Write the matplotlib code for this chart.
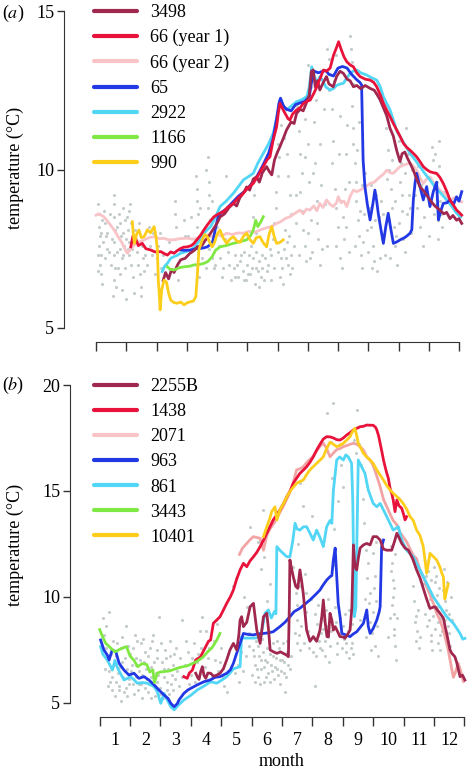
import numpy as np
import matplotlib
matplotlib.use('Agg')
import matplotlib.pyplot as plt
from matplotlib.lines import Line2D

plt.rcParams['font.family'] = ['Liberation Serif', 'DejaVu Serif']
plt.rcParams['mathtext.fontset'] = 'stix'
plt.rcParams['font.size'] = 13

# ---------------- panel (a) ----------------
a_3498_m = [2.22, 2.3, 2.4, 2.5, 2.58, 2.7, 2.8, 2.95, 3.1, 3.25, 3.35, 3.5, 3.6, 3.68, 3.83, 4.0, 4.1, 4.25, 4.4, 4.54,
            4.65, 4.75, 4.9, 4.98, 5.08, 5.2, 5.31, 5.4, 5.5, 5.64, 5.72, 5.81, 5.9, 6.0, 6.08, 6.2, 6.3, 6.45, 6.55, 6.63,
            6.75, 6.85, 6.97, 7.05, 7.12, 7.18, 7.25, 7.32, 7.4, 7.5, 7.62, 7.7, 7.84, 7.96, 8.07, 8.18, 8.3, 8.4, 8.51, 8.62,
            8.75, 8.9, 9.06, 9.2, 9.3, 9.39, 9.5, 9.61, 9.72, 9.83, 9.94, 10.05, 10.12, 10.21, 10.3, 10.38, 10.49, 10.6, 10.71, 10.85,
            11.04, 11.2, 11.37, 11.5, 11.59, 11.7, 11.8, 11.92, 12.0, 12.09]
a_3498_t = [6.5, 6.75, 6.55, 6.85, 6.75, 7.0, 7.15, 7.2, 7.35, 7.45, 7.56, 7.6, 7.75, 7.84, 8.05, 8.3, 8.5, 8.6, 8.8, 8.93,
            8.85, 9.1, 9.3, 9.45, 9.35, 9.7, 9.77, 9.6, 9.9, 10.09, 9.95, 9.83, 10.3, 10.55, 10.72, 11.0, 11.25, 11.5, 11.45, 11.77,
            11.9, 11.85, 12.14, 12.35, 13.1, 13.14, 12.6, 12.8, 12.51, 12.72, 12.93, 12.7, 12.61, 12.95, 13.1, 13.03, 12.85, 12.8, 12.61, 12.65,
            12.55, 12.65, 12.56, 12.5, 12.35, 12.2, 11.95, 11.7, 11.3, 11.05, 10.6, 10.25, 10.5, 10.55, 10.35, 10.2, 9.98, 9.7, 9.46, 9.3,
            9.04, 8.85, 8.72, 8.6, 8.65, 8.45, 8.55, 8.4, 8.45, 8.3]

a_66y1_m = [1.15, 1.22, 1.31, 1.4, 1.53, 1.65, 1.81, 1.95, 2.14, 2.25, 2.36, 2.47, 2.58, 2.7, 2.8, 2.9, 3.02, 3.15, 3.24, 3.35,
            3.46, 3.57, 3.68, 3.8, 3.9, 4.05, 4.21, 4.35, 4.54, 4.7, 4.87, 5.0, 5.2, 5.35, 5.53, 5.65, 5.75, 5.85, 5.97, 6.03,
            6.08, 6.15, 6.25, 6.35, 6.41, 6.5, 6.63, 6.75, 6.86, 6.97, 7.08, 7.2, 7.3, 7.42, 7.52, 7.62, 7.74, 7.85, 7.96, 8.02,
            8.1, 8.2, 8.29, 8.4, 8.51, 8.62, 8.73, 8.9, 9.06, 9.18, 9.28, 9.4, 9.5, 9.62, 9.72, 9.83, 9.94, 10.05, 10.16, 10.27,
            10.38, 10.5, 10.6, 10.71, 10.82, 10.93, 11.04, 11.15, 11.26, 11.37, 11.48, 11.6, 11.7, 11.8, 11.92, 12.0, 12.09]
a_66y1_t = [7.56, 7.9, 7.83, 7.6, 7.67, 7.5, 7.46, 7.4, 7.41, 7.35, 7.3, 7.4, 7.36, 7.45, 7.51, 7.55, 7.56, 7.6, 7.67, 7.8,
            7.93, 8.1, 8.25, 8.4, 8.51, 8.6, 8.67, 8.8, 8.93, 9.1, 9.25, 9.4, 9.56, 9.8, 10.09, 10.3, 10.4, 10.9, 11.35, 11.8,
            12.09, 11.95, 11.77, 11.6, 11.56, 11.75, 11.88, 11.95, 12.09, 12.15, 12.19, 12.4, 12.61, 12.9, 13.14, 13.1, 13.2, 13.6, 13.87, 14.03,
            13.8, 13.55, 13.4, 13.3, 13.24, 13.05, 12.93, 12.85, 12.82, 12.75, 12.61, 12.35, 12.09, 11.85, 11.67, 11.45, 11.25, 11.05, 10.83, 10.7,
            10.61, 10.5, 10.4, 10.25, 10.09, 10.0, 9.93, 9.9, 9.88, 9.75, 9.56, 9.3, 9.04, 8.9, 8.72, 8.65, 8.56]

a_66y2_m = [0.0, 0.1, 0.26, 0.4, 0.6, 0.75, 0.87, 0.95, 1.03, 1.12, 1.26, 1.4, 1.59, 1.75, 1.92, 2.1, 2.25, 2.4, 2.58, 2.75,
            3.02, 3.2, 3.35, 3.5, 3.68, 3.85, 4.0, 4.15, 4.32, 4.5, 4.7, 4.87, 5.05, 5.25, 5.42, 5.6, 5.8, 5.97, 6.1, 6.25,
            6.41, 6.55, 6.74, 6.85, 6.95, 7.07, 7.2, 7.3, 7.4, 7.5, 7.62, 7.74, 7.84, 7.95, 8.01, 8.1, 8.2, 8.29, 8.4, 8.51,
            8.62, 8.73, 8.9, 9.06, 9.2, 9.39, 9.5, 9.61, 9.72, 9.83, 9.95, 10.05, 10.2, 10.38, 10.5, 10.6, 10.71, 10.82, 10.93, 11.04,
            11.15, 11.26, 11.37, 11.48, 11.6, 11.7, 11.82, 11.92, 12.0, 12.09]
a_66y2_t = [8.56, 8.6, 8.51, 8.35, 8.09, 7.85, 7.67, 7.5, 7.36, 7.45, 7.62, 7.7, 7.78, 7.85, 7.88, 7.82, 7.83, 7.78, 7.78, 7.82,
            7.83, 7.8, 7.83, 7.9, 7.93, 7.9, 7.95, 7.9, 7.99, 7.95, 8.0, 7.99, 8.05, 8.02, 8.09, 8.15, 8.2, 8.3, 8.35, 8.45,
            8.51, 8.6, 8.72, 8.6, 8.75, 8.72, 8.85, 8.7, 8.93, 8.8, 9.04, 8.9, 8.83, 8.95, 9.14, 8.95, 9.0, 8.83, 9.15, 9.35,
            9.3, 9.35, 9.45, 9.56, 9.6, 9.77, 9.85, 9.98, 9.9, 9.88, 10.0, 10.09, 10.15, 10.2, 10.1, 9.98, 9.75, 9.56, 9.7, 9.77,
            9.6, 9.46, 9.35, 9.25, 9.1, 9.04, 9.1, 9.12, 9.0, 8.98]

a_65_m = [2.8, 2.95, 3.13, 3.3, 3.46, 3.57, 3.68, 3.76, 3.84, 3.9, 3.96, 4.04, 4.15, 4.3, 4.5, 4.7, 4.9, 5.1, 5.3, 5.5,
          5.7, 5.85, 5.97, 6.05, 6.1, 6.2, 6.3, 6.45, 6.6, 6.75, 6.9, 7.05, 7.15, 7.22, 7.35, 7.5, 7.6, 7.7, 7.85, 8.0,
          8.15, 8.3, 8.45, 8.6, 8.72, 8.78, 8.83, 8.89, 8.97, 9.06, 9.15, 9.22, 9.28, 9.33, 9.42, 9.5, 9.58, 9.66, 9.75, 9.83,
          9.95, 10.05, 10.2, 10.3, 10.38, 10.44, 10.49, 10.55, 10.6, 10.7, 10.82, 10.93, 11.04, 11.15, 11.26, 11.32, 11.4, 11.48, 11.6, 11.7,
          11.82, 11.92, 12.0, 12.09]
a_65_t = [7.46, 7.45, 7.46, 7.5, 7.51, 7.53, 7.56, 7.62, 7.67, 7.9, 8.2, 8.51, 8.65, 8.75, 8.95, 9.15, 9.3, 9.5, 9.75, 10.1,
          10.5, 10.95, 11.6, 12.1, 12.25, 12.0, 11.9, 11.85, 12.05, 12.1, 12.15, 12.3, 12.9, 13.1, 13.05, 13.1, 13.12, 13.0, 12.95, 13.2,
          13.25, 13.2, 13.0, 12.85, 12.75, 12.67, 10.3, 9.46, 8.9, 8.41, 8.9, 9.35, 9.0, 8.62, 8.1, 7.67, 8.2, 8.62, 8.1, 7.67,
          7.72, 7.78, 7.85, 7.92, 7.99, 8.1, 9.04, 9.6, 9.88, 9.5, 9.04, 9.46, 8.83, 9.3, 9.6, 8.41, 8.7, 8.93, 8.95, 9.04,
          8.9, 9.14, 9.0, 9.3]

a_2922_m = [2.19, 2.27, 2.36, 2.47, 2.58, 2.7, 2.8, 2.95, 3.13, 3.25, 3.35, 3.45, 3.57, 3.68, 3.79, 3.95, 4.1, 4.3, 4.54, 4.7,
            4.87, 5.0, 5.2, 5.35, 5.53, 5.7, 5.86, 5.97, 6.08, 6.2, 6.3, 6.45, 6.63, 6.8, 6.97, 7.05, 7.13, 7.2, 7.3, 7.4,
            7.5, 7.6, 7.74, 7.85, 7.95, 8.08, 8.18, 8.3, 8.4, 8.5, 8.62, 8.75, 8.95, 9.1, 9.28, 9.4, 9.5, 9.6, 9.72, 9.85,
            9.95, 10.05, 10.2, 10.38, 10.55, 10.71, 10.85, 11.04, 11.2, 11.4, 11.59, 11.75, 11.92, 12.05]
a_2922_t = [6.78, 6.95, 7.04, 7.2, 7.25, 7.3, 7.36, 7.4, 7.46, 7.55, 7.67, 7.8, 7.99, 8.1, 8.2, 8.5, 8.83, 9.0, 9.25, 9.45,
            9.67, 9.75, 9.88, 10.2, 10.51, 10.8, 11.14, 11.6, 12.19, 12.0, 11.88, 12.0, 12.14, 12.2, 12.3, 12.6, 13.24, 13.0, 12.72, 12.93,
            12.8, 12.6, 12.51, 12.55, 12.65, 12.7, 12.72, 12.9, 13.03, 13.1, 13.14, 13.05, 12.98, 12.9, 12.82, 12.6, 12.3, 12.1, 11.88, 11.5,
            11.2, 11.04, 10.8, 10.51, 10.3, 10.09, 9.9, 9.67, 9.45, 9.25, 9.04, 8.85, 8.62, 8.5]

a_1166_m = [2.36, 2.45, 2.58, 2.75, 2.91, 3.1, 3.24, 3.4, 3.57, 3.7, 3.84, 3.95, 4.1, 4.3, 4.54, 4.75, 4.98, 5.1, 5.2, 5.28,
            5.35, 5.45, 5.53]
a_1166_t = [6.93, 6.85, 6.83, 6.9, 6.93, 6.95, 6.99, 7.0, 7.04, 7.1, 7.25, 7.45, 7.56, 7.6, 7.67, 7.72, 7.78, 7.9, 8.09, 8.4,
            8.2, 8.35, 8.51]

a_990_m = [1.2, 1.24, 1.27, 1.34, 1.42, 1.5, 1.59, 1.7, 1.8, 1.92, 1.98, 2.03, 2.06, 2.09, 2.12, 2.17, 2.25, 2.33, 2.4, 2.47,
           2.58, 2.69, 2.8, 2.91, 3.02, 3.13, 3.22, 3.3, 3.36, 3.4, 3.51, 3.6, 3.68, 3.76, 3.84, 3.92, 4.0, 4.1, 4.2, 4.32,
           4.42, 4.54, 4.65, 4.76, 4.88, 4.98, 5.08, 5.2, 5.3, 5.42, 5.52, 5.64, 5.72, 5.81, 5.9, 5.97, 6.08, 6.19]
a_990_t = [8.35, 7.9, 7.67, 7.95, 8.09, 7.85, 7.88, 8.1, 8.0, 8.2, 7.9, 7.46, 6.5, 6.09, 5.57, 6.2, 6.51, 6.45, 6.1, 5.88,
           5.8, 5.78, 5.82, 5.73, 5.8, 5.83, 5.85, 5.99, 6.8, 7.46, 7.78, 7.95, 7.88, 7.7, 7.56, 7.7, 7.95, 8.09, 7.85, 7.67,
           7.8, 7.88, 7.75, 7.7, 7.9, 7.99, 7.8, 7.67, 7.85, 7.88, 7.7, 7.56, 7.95, 8.2, 7.85, 7.67, 7.7, 7.78]

# grey dots (panel a)
a_dot_m = [0.08, 0.1, 0.1, 0.12, 0.1, 0.15, 0.12, 0.18, 0.2, 0.22, 0.3, 0.32, 0.35, 0.3, 0.38,
           0.58, 0.6, 0.6, 0.62, 0.6, 0.58, 0.62, 0.6, 0.57, 0.65,
           0.75, 0.8, 0.82, 0.78, 0.85, 0.88, 0.9, 0.92, 0.95, 0.98, 0.8, 0.85,
           1.02, 1.05, 1.08, 1.1, 1.12, 1.15, 1.2, 1.22, 1.0, 1.25,
           1.35, 1.4, 1.45, 1.5, 1.55, 1.6, 1.48, 1.8, 1.85, 1.9, 2.0, 2.05, 2.15, 2.2,
           2.6, 2.6, 2.65, 2.6, 2.7, 2.9, 2.95,
           3.32, 3.35, 3.35, 3.38, 3.35, 3.4, 3.38, 3.35, 3.4, 3.45,
           3.65, 3.7, 3.72, 3.75, 3.7, 3.78, 3.8, 3.75, 3.85, 3.9, 4.0, 4.05, 4.1, 4.2, 4.3, 4.35, 4.15,
           4.55, 4.6, 4.7, 4.75, 4.85, 4.9, 4.95, 5.0, 5.05, 5.1, 5.15, 5.2, 5.25, 5.3, 5.35, 5.4, 5.45, 5.5, 5.22, 5.18, 5.3,
           5.6, 5.65, 5.75, 5.8, 5.85, 5.9, 5.95, 5.95, 6.0, 6.05, 6.0, 6.1, 6.15, 6.2, 6.25, 6.3, 6.35, 6.4, 6.45,
           6.1, 6.2, 6.3, 6.35, 6.4, 6.45,
           6.65, 6.7, 6.75, 6.8, 6.75, 6.8, 6.85, 6.9, 6.95, 7.0, 7.05, 7.1, 7.15, 7.2, 7.25, 7.3, 7.35, 7.4, 7.45, 7.0, 7.1,
           7.65, 7.7, 7.75, 7.7, 7.8, 7.85, 7.8, 7.9, 7.95, 8.0, 7.95, 8.05, 8.1, 8.15, 8.2, 8.25, 8.3,
           8.4, 8.42, 8.45, 8.45, 8.5, 8.5, 8.55, 8.6, 8.6, 8.65, 8.7, 8.75, 8.8, 8.85, 8.9,
           9.05, 9.1, 9.15, 9.2, 9.3, 9.35, 9.45,
           9.6, 9.65, 9.7, 9.75, 9.8, 9.85, 9.9, 9.95, 10.0, 10.05, 10.1, 10.15, 10.25, 10.3, 10.35, 10.4,
           10.6, 10.7, 10.8, 11.1, 11.15, 11.2, 11.2, 11.25, 11.3, 11.3, 11.35, 11.45,
           0.05, 0.07, 0.15, 0.2, 0.28, 0.42, 0.45, 0.5, 0.52, 0.68, 0.7, 0.72, 0.9, 0.95, 1.05, 1.1, 1.15, 1.18, 1.3, 1.32,
           1.42, 1.52, 1.62, 1.7, 1.75, 1.95, 2.1, 2.3, 2.4, 2.8, 3.05, 3.15, 3.5, 3.55, 3.62, 3.82, 3.95, 4.25, 4.4, 4.45,
           4.6, 4.65, 4.8, 4.88, 5.02, 5.12, 5.28, 5.38, 5.48, 5.55, 5.7, 5.78, 5.88, 6.02, 6.08, 6.18, 6.28, 6.38, 6.48, 6.55,
           6.6, 6.62, 6.72, 6.9, 6.92, 7.02, 7.08, 7.18, 7.28, 7.32, 7.42, 7.48, 7.55, 7.58, 7.62, 7.88, 7.92, 8.02, 8.08, 8.12,
           8.22, 8.28, 8.35, 8.38, 8.48, 8.55, 8.62, 8.68, 8.72, 8.78, 8.82, 8.95, 9.0, 9.08, 9.12, 9.22, 9.25, 9.38, 9.42, 9.5,
           9.55, 9.62, 9.68, 9.72, 9.78, 9.88, 9.92, 10.02, 10.08, 10.12, 10.2, 10.22, 10.28, 10.38, 10.45, 10.55, 10.65, 10.75, 10.85, 10.9,
           11.0, 11.08, 11.18, 11.22, 11.28, 11.33, 11.38, 11.42, 11.52]
a_dot_t = [8.9, 8.6, 8.2, 7.9, 7.6, 7.3, 7.0, 6.7, 8.4, 7.7, 8.3, 7.9, 7.5, 7.2, 8.0,
           9.2, 8.9, 8.5, 8.1, 7.7, 7.3, 6.9, 6.5, 6.0, 6.3,
           8.6, 8.3, 7.9, 7.5, 7.2, 8.8, 8.0, 7.6, 8.4, 7.8, 6.7, 6.2,
           8.5, 8.1, 7.7, 7.3, 8.9, 7.0, 7.5, 6.6, 5.9, 6.1,
           7.4, 7.0, 6.7, 6.3, 7.2, 6.8, 6.0, 7.6, 7.3, 8.0, 7.2, 7.6, 6.9, 7.3,
           9.0, 8.6, 8.2, 7.8, 6.5, 8.4, 7.9,
           9.8, 9.4, 9.0, 8.6, 8.2, 7.8, 7.4, 7.0, 6.6, 8.8,
           10.0, 10.4, 9.6, 9.2, 8.8, 8.4, 7.9, 7.5, 7.2, 6.9, 8.2, 7.6, 7.2, 6.9, 9.8, 7.4, 6.6,
           6.9, 7.3, 6.6, 7.1, 6.8, 7.4, 6.5, 7.0, 7.3, 6.7, 6.9, 7.2, 6.4, 7.4, 6.8, 7.1, 6.6, 6.9, 9.2, 8.5, 8.0,
           7.2, 6.8, 7.5, 6.5, 7.8, 8.3, 8.8, 9.3, 9.8, 10.4, 10.8, 7.2, 6.9, 7.5, 8.1, 7.7, 7.0, 6.7, 7.3,
           11.4, 11.0, 10.5, 9.8, 9.2, 8.6,
           12.0, 11.2, 10.5, 9.9, 9.3, 8.7, 8.1, 7.6, 7.1, 10.8, 9.6, 8.4, 7.4, 11.5, 10.2, 9.0, 7.8, 7.0, 9.5, 13.3, 12.6,
           13.8, 13.5, 13.0, 12.5, 11.9, 10.9, 10.2, 9.4, 8.8, 8.2, 7.6, 7.2, 9.0, 8.5, 7.8, 10.5, 11.4,
           14.2, 13.8, 13.4, 12.0, 11.3, 10.8, 10.2, 9.6, 9.0, 8.4, 7.9, 7.3, 6.9, 8.6, 9.9,
           8.8, 8.2, 7.6, 7.1, 6.8, 8.5, 7.8,
           11.3, 10.6, 10.0, 9.4, 8.8, 8.2, 7.6, 7.0, 10.9, 9.6, 8.7, 7.8, 11.3, 10.5, 9.2, 8.0,
           8.8, 8.2, 7.6, 10.7, 10.3, 9.9, 9.4, 8.9, 8.4, 7.8, 10.9, 8.2,
           7.3, 6.8, 8.0, 6.4, 8.7, 7.4, 8.6, 7.0, 7.8, 8.2, 7.4, 6.9, 7.3, 6.9, 7.5, 8.7, 8.3, 7.8, 8.1, 7.7,
           8.3, 7.6, 7.3, 7.0, 8.2, 6.7, 8.0, 7.0, 7.7, 7.5, 7.9, 8.5, 7.2, 8.0, 6.9, 9.0, 7.0, 7.8, 7.0, 6.5,
           6.6, 7.0, 7.3, 6.5, 6.7, 7.6, 6.9, 6.3, 7.3, 6.5, 7.0, 7.3, 6.9, 7.4, 6.6, 6.4, 7.2, 7.9, 6.9, 7.6,
           8.3, 9.2, 7.3, 10.4, 11.6, 8.0, 7.2, 9.9, 12.2, 8.3, 10.8, 7.5, 11.9, 8.9, 7.6, 12.8, 13.6, 10.5, 11.7, 6.9,
           9.4, 8.2, 7.4, 9.6, 12.7, 7.6, 10.6, 11.5, 8.7, 9.5, 7.7, 8.1, 7.4, 9.5, 6.9, 8.4, 9.2, 7.2, 9.0, 8.6,
           7.3, 9.7, 8.4, 7.2, 10.3, 9.0, 7.9, 8.3, 10.2, 9.2, 7.4, 9.9, 8.6, 8.8, 10.0, 9.2, 10.1, 9.5, 8.5, 9.3,
           7.9, 9.1, 8.6, 10.5, 9.6, 10.1, 9.0, 8.6, 9.3]

# ---------------- panel (b) ----------------
b_2255_m = [3.16, 3.22, 3.27, 3.33, 3.38, 3.43, 3.49, 3.56, 3.65, 3.75, 3.85, 3.96, 4.07, 4.18, 4.29, 4.4, 4.51, 4.58, 4.62, 4.67,
            4.73, 4.84, 4.95, 5.06, 5.12, 5.17, 5.28, 5.35, 5.39, 5.5, 5.56, 5.61, 5.72, 5.83, 5.95, 6.04, 6.15, 6.21, 6.24, 6.26,
            6.32, 6.37, 6.45, 6.52, 6.59, 6.65, 6.7, 6.78, 6.81, 6.92, 7.03, 7.14, 7.25, 7.31, 7.36, 7.42, 7.48, 7.53, 7.58, 7.64,
            7.69, 7.75, 7.85, 7.91, 8.02, 8.07, 8.15, 8.24, 8.3, 8.35, 8.4, 8.46, 8.51, 8.57, 8.68, 8.79, 8.9, 9.0, 9.12, 9.23,
            9.34, 9.45, 9.56, 9.61, 9.7, 9.78, 9.85, 9.94, 10.05, 10.16, 10.3, 10.43, 10.54, 10.65, 10.76, 10.87, 10.96, 11.04, 11.1, 11.2,
            11.31, 11.37, 11.42, 11.53, 11.59, 11.69, 11.75, 11.86, 11.94, 12.02]
b_2255_t = [6.39, 6.2, 6.1, 6.5, 6.7, 6.3, 6.15, 6.4, 6.39, 6.25, 6.3, 6.39, 6.6, 7.02, 7.5, 7.8, 7.49, 8.2, 8.9, 9.06,
            8.59, 8.8, 9.53, 9.69, 9.0, 8.43, 7.8, 8.6, 9.06, 9.22, 8.4, 7.49, 7.4, 7.33, 7.4, 7.33, 7.25, 7.17, 9.5, 11.74,
            11.3, 10.95, 10.5, 10.4, 11.27, 10.7, 10.16, 8.9, 8.43, 7.9, 8.12, 7.9, 8.43, 9.06, 9.85, 8.8, 8.12, 8.12, 9.22, 8.9,
            8.43, 8.59, 8.3, 8.12, 8.1, 8.04, 8.2, 8.43, 9.5, 12.45, 11.42, 11.27, 11.8, 12.3, 12.45, 12.52, 12.45, 12.84, 12.84, 12.68,
            12.25, 12.2, 12.2, 12.2, 12.6, 13.0, 12.8, 12.52, 12.3, 12.2, 11.8, 11.27, 10.9, 10.4, 9.9, 9.45, 9.5, 9.53, 9.4, 9.22,
            9.0, 8.59, 8.27, 7.49, 7.33, 7.17, 6.9, 6.23, 6.3, 6.07]

b_1438_m = [2.77, 2.88, 2.95, 3.05, 3.16, 3.25, 3.32, 3.4, 3.49, 3.58, 3.65, 3.74, 3.85, 3.96, 4.08, 4.18, 4.3, 4.4, 4.5, 4.62,
            4.73, 4.84, 4.95, 5.06, 5.17, 5.28, 5.4, 5.5, 5.6, 5.71, 5.82, 5.93, 6.05, 6.16, 6.27, 6.37, 6.48, 6.59, 6.7, 6.81,
            6.92, 7.03, 7.14, 7.25, 7.36, 7.47, 7.58, 7.69, 7.8, 7.91, 8.02, 8.13, 8.24, 8.35, 8.46, 8.57, 8.68, 8.79, 8.9, 9.0,
            9.08, 9.12, 9.18, 9.23, 9.28, 9.34, 9.4, 9.45, 9.5, 9.56, 9.61, 9.66, 9.72, 9.78, 9.85, 9.94, 10.0, 10.05, 10.1]
b_1438_t = [6.23, 6.15, 6.4, 6.54, 7.02, 7.1, 7.17, 7.4, 7.65, 7.9, 7.96, 8.75, 8.9, 9.06, 9.4, 9.69, 10.0, 10.32, 10.8, 11.27,
            11.58, 11.42, 11.7, 11.89, 12.1, 12.37, 12.7, 13.0, 13.3, 13.63, 13.85, 14.1, 14.4, 14.73, 15.0, 15.36, 15.6, 15.83, 15.98, 16.14,
            16.35, 16.61, 16.93, 17.2, 17.45, 17.56, 17.55, 17.5, 17.42, 17.4, 17.5, 17.64, 17.75, 17.88, 17.95, 18.03, 18.05, 18.11, 18.1, 18.1,
            18.0, 17.88, 17.6, 17.25, 16.9, 16.46, 16.1, 15.83, 15.6, 15.1, 14.89, 14.57, 14.02, 14.57, 14.3, 14.18, 13.9, 13.63, 13.78]

b_2071_m = [4.6, 4.7, 4.84, 4.95, 5.06, 5.17, 5.28, 5.39, 5.5, 5.6, 5.75, 5.9, 6.05, 6.2, 6.35, 6.48, 6.6, 6.7, 6.85, 7.0,
            7.15, 7.25, 7.36, 7.47, 7.58, 7.7, 7.8, 7.91, 8.02, 8.15, 8.24, 8.35, 8.46, 8.57, 8.68, 8.79, 8.9, 9.0, 9.12, 9.23,
            9.34, 9.45, 9.56, 9.66, 9.78, 9.88, 10.0, 10.1, 10.2, 10.32, 10.43, 10.54, 10.65, 10.76, 10.87, 10.98, 11.09, 11.2, 11.31, 11.42,
            11.47, 11.53, 11.64, 11.7, 11.8, 11.88, 11.97]
b_2071_t = [12.0, 12.3, 12.52, 12.7, 12.84, 12.8, 12.76, 12.2, 12.9, 13.2, 13.5, 13.9, 14.3, 14.75, 15.3, 15.99, 16.05, 16.14, 16.4, 16.6,
            16.9, 17.1, 17.25, 17.0, 16.61, 16.8, 16.95, 17.0, 17.09, 17.15, 17.2, 17.25, 17.2, 17.09, 16.93, 16.61, 16.45, 16.2, 15.7, 15.2,
            14.6, 14.25, 13.9, 13.6, 13.4, 13.05, 12.8, 12.6, 12.3, 11.95, 11.8, 11.27, 10.95, 10.48, 10.1, 9.69, 9.22, 8.9, 8.43, 7.8,
            7.49, 7.02, 6.2, 6.4, 6.86, 6.5, 6.0]

b_963_m = [0.03, 0.14, 0.25, 0.31, 0.41, 0.53, 0.64, 0.8, 0.96, 1.13, 1.29, 1.46, 1.62, 1.79, 1.95, 2.12, 2.25, 2.34, 2.45, 2.55,
           2.61, 2.77, 2.9, 3.0, 3.21, 3.43, 3.63, 3.8, 3.96, 4.18, 4.3, 4.4, 4.5, 4.62, 4.73, 4.9, 5.06, 5.2, 5.39, 5.55,
           5.71, 5.93, 6.1, 6.26, 6.4, 6.59, 6.75, 6.92, 7.1, 7.25, 7.35, 7.47, 7.58, 7.64, 7.69, 7.75, 7.8, 7.85, 7.91, 7.97,
           8.1, 8.24, 8.35, 8.46, 8.57, 8.68, 8.79, 8.84, 8.9, 9.0, 9.12, 9.2, 9.23, 9.28, 9.34]
b_963_t = [7.96, 7.49, 7.25, 7.02, 7.49, 7.41, 6.86, 6.54, 6.31, 6.39, 6.15, 6.23, 6.07, 5.84, 5.6, 5.36, 5.2, 4.97, 4.81, 4.95,
           5.13, 5.44, 5.6, 5.68, 5.84, 5.99, 6.07, 6.2, 6.23, 6.39, 6.55, 6.86, 7.3, 7.8, 8.27, 8.22, 8.2, 8.25, 8.27, 8.3,
           8.35, 8.59, 8.8, 9.06, 9.3, 9.46, 9.65, 9.85, 10.1, 10.32, 10.55, 10.79, 10.95, 11.0, 11.74, 12.3, 11.0, 9.69, 9.06, 8.27,
           8.2, 8.12, 8.25, 8.35, 8.55, 8.75, 9.38, 8.6, 8.27, 8.5, 8.9, 9.3, 9.53, 12.37, 12.68]

b_861_m = [0.03, 0.1, 0.25, 0.42, 0.5, 0.6, 0.8, 1.02, 1.24, 1.4, 1.57, 1.79, 1.9, 2.01, 2.12, 2.2, 2.34, 2.45, 2.6, 2.77,
           3.0, 3.21, 3.45, 3.65, 3.85, 4.0, 4.18, 4.29, 4.4, 4.62, 4.67, 4.73, 4.9, 5.1, 5.3, 5.44, 5.55, 5.65, 5.75, 5.8,
           5.83, 5.93, 6.04, 6.15, 6.26, 6.35, 6.43, 6.5, 6.59, 6.7, 6.81, 6.92, 7.03, 7.14, 7.25, 7.36, 7.47, 7.58, 7.64, 7.69,
           7.75, 7.8, 7.9, 8.02, 8.1, 8.18, 8.29, 8.33, 8.38, 8.43, 8.46, 8.51, 8.62, 8.73, 8.84, 9.0, 9.12, 9.23, 9.34, 9.5,
           9.66, 9.83, 9.94, 10.1, 10.32, 10.54, 10.76, 10.98, 11.2, 11.42, 11.64, 11.86, 11.95, 12.02]
b_861_t = [7.65, 7.3, 7.02, 6.54, 7.0, 6.6, 6.07, 6.23, 5.92, 5.95, 5.92, 5.76, 5.5, 4.97, 5.44, 5.2, 4.81, 4.66, 4.9, 5.13,
           5.35, 5.6, 5.8, 5.99, 5.92, 6.05, 6.23, 6.4, 6.6, 6.7, 8.1, 8.05, 8.05, 8.05, 8.1, 9.22, 9.38, 9.0, 9.3, 9.2,
           12.37, 12.2, 12.05, 11.9, 11.89, 12.6, 13.47, 13.2, 13.15, 13.3, 13.31, 13.0, 12.68, 13.15, 12.8, 12.37, 13.31, 13.6, 13.47, 15.0,
           15.8, 16.46, 16.6, 16.46, 16.7, 16.61, 16.3, 14.5, 9.06, 9.5, 12.2, 16.46, 16.14, 15.83, 15.04, 14.41, 14.25, 14.41, 14.1, 13.63,
           13.15, 13.31, 12.68, 12.2, 11.89, 11.27, 10.64, 10.0, 9.53, 9.06, 8.75, 8.27, 8.0, 8.04]

b_3443_m = [0.0, 0.1, 0.2, 0.35, 0.5, 0.7, 0.88, 1.0, 1.13, 1.25, 1.4, 1.55, 1.65, 1.75, 1.8, 1.9, 2.0, 2.3, 2.6, 2.9,
            3.2, 3.4, 3.55, 3.7, 3.85, 3.96]
b_3443_t = [8.45, 8.1, 7.8, 7.6, 7.4, 7.55, 7.65, 7.2, 7.0, 6.7, 6.85, 6.8, 6.45, 6.55, 5.95, 6.4, 6.45, 6.5, 6.65, 6.75,
            6.95, 7.15, 7.4, 7.6, 7.95, 8.27]

b_10401_m = [5.39, 5.5, 5.6, 5.66, 5.72, 5.77, 5.83, 5.93, 6.05, 6.16, 6.3, 6.48, 6.6, 6.7, 6.8, 6.92, 7.03, 7.14, 7.25, 7.36,
             7.47, 7.58, 7.69, 7.8, 7.91, 8.02, 8.13, 8.24, 8.32, 8.4, 8.46, 8.51, 8.6, 8.68, 8.79, 8.9, 9.0, 9.12, 9.23, 9.34,
             9.45, 9.56, 9.66, 9.78, 9.88, 9.99, 10.1, 10.21, 10.32, 10.43, 10.54, 10.65, 10.7, 10.76, 10.82, 10.87, 10.98, 11.09, 11.2, 11.26,
             11.31, 11.36, 11.42, 11.47]
b_10401_t = [12.84, 13.31, 13.7, 14.02, 14.15, 14.25, 13.63, 14.1, 14.4, 14.73, 15.05, 15.36, 15.45, 15.51, 15.75, 15.99, 16.15, 16.3, 16.45, 16.61,
             17.0, 17.3, 17.2, 17.09, 17.15, 17.25, 17.4, 17.56, 17.8, 17.95, 17.6, 17.25, 17.0, 16.77, 16.6, 16.46, 16.3, 15.99, 15.75, 15.51,
             15.25, 15.04, 14.89, 14.73, 14.6, 14.4, 14.15, 13.8, 13.6, 13.15, 12.9, 12.37, 11.8, 11.11, 11.6, 12.05, 11.9, 11.74, 11.4, 11.11,
             10.95, 9.9, 10.3, 10.6]

# grey dots (panel b)
b_dot_m = [0.15, 0.2, 0.25, 0.3, 0.32, 0.35, 0.4, 0.45, 0.5, 0.48,
           0.55, 0.6, 0.65, 0.7, 0.75, 0.8, 0.85, 0.9, 0.95, 1.0, 0.7, 0.9,
           1.05, 1.1, 1.15, 1.2, 1.25, 1.3, 1.35, 1.4, 1.45, 1.5, 1.2, 1.35,
           1.55, 1.6, 1.65, 1.7, 1.75, 1.8, 1.85, 1.9, 1.95, 2.0, 1.7, 1.9,
           2.05, 2.1, 2.15, 2.2, 2.25, 2.3, 2.35, 2.4, 2.45,
           2.55, 2.65, 2.72, 2.8, 2.9, 3.0, 3.1, 3.2, 3.3, 3.38, 3.25,
           3.5, 3.6, 3.7, 3.8, 3.9, 4.0, 4.1, 4.2,
           4.4, 4.5, 4.6, 4.7, 4.8, 4.9, 4.95, 4.85,
           5.05, 5.1, 5.15, 5.2, 5.25, 5.3, 5.35, 5.4, 5.45, 5.5, 5.55, 5.6, 5.65, 5.7, 5.75, 5.8, 5.85, 5.9, 5.95, 6.0,
           6.05, 6.1, 6.15, 6.2, 5.39, 5.4, 5.6, 5.3, 5.2, 5.5,
           6.35, 6.4, 6.45, 6.5, 6.5, 6.55, 6.6, 6.6, 6.7, 6.75, 6.8, 6.85,
           7.0, 7.05, 7.1, 7.15, 7.2, 7.25, 7.3, 7.35, 7.4, 7.45, 7.5, 7.55, 7.1, 7.47, 7.69, 7.6, 7.7, 7.72, 7.75, 7.8,
           7.9, 7.95, 8.0, 8.05, 8.1, 8.2, 8.3, 8.35, 8.46, 8.5,
           8.6, 8.7, 8.75, 8.8, 8.85, 8.9, 8.95, 9.0, 9.05, 9.1, 9.12, 9.05,
           9.6, 9.62, 9.65, 9.66, 9.68, 9.7, 9.72, 9.75, 9.5,
           10.35, 10.4, 10.45, 10.5, 10.7, 10.75, 10.8, 10.8, 10.85, 10.9, 10.95, 10.9,
           11.0, 11.05, 11.1, 11.1, 11.15, 11.2, 11.2, 11.3, 11.35, 11.4, 11.45, 11.5, 11.55,
           0.12, 0.18, 0.22, 0.28, 0.38, 0.42, 0.52, 0.58, 0.62, 0.68, 0.72, 0.78, 0.82, 0.88, 0.92, 0.98, 1.02, 1.08, 1.12, 1.18,
           1.22, 1.28, 1.32, 1.38, 1.42, 1.48, 1.52, 1.58, 1.62, 1.68, 1.72, 1.78, 1.82, 1.88, 1.92, 1.98, 2.02, 2.08, 2.12, 2.18,
           2.22, 2.28, 2.32, 2.38, 2.42, 2.48, 2.52, 2.6, 2.7, 2.85, 2.95, 3.05, 3.15, 3.35, 3.45, 3.55, 3.75, 3.85, 3.95, 4.05,
           4.45, 4.55, 4.65, 4.75, 4.9, 5.02, 5.08, 5.12, 5.18, 5.22, 5.28, 5.32, 5.38, 5.42, 5.48, 5.52, 5.58, 5.62, 5.68, 5.72,
           5.78, 5.82, 5.88, 5.92, 5.98, 6.02, 6.08, 6.12, 6.18, 6.25, 6.3, 6.42, 6.48, 6.52, 6.58, 6.62, 6.72, 6.78, 6.88, 6.95,
           7.02, 7.08, 7.12, 7.18, 7.22, 7.28, 7.32, 7.38, 7.42, 7.48, 7.52, 7.58, 7.62, 7.65, 7.78, 7.82, 7.85, 7.88, 7.92, 7.98,
           8.02, 8.08, 8.12, 8.18, 8.22, 8.28, 8.32, 8.38, 8.42, 8.55, 8.58, 8.65, 8.72, 8.78, 8.82, 8.88, 8.92, 8.98, 9.02, 9.08,
           9.15, 9.55, 9.58, 9.63, 9.67, 9.7, 9.73, 9.78, 10.3, 10.38, 10.42, 10.48, 10.55, 10.65, 10.72, 10.78, 10.82, 10.88, 10.92, 10.98,
           11.02, 11.08, 11.12, 11.18, 11.22, 11.28, 11.32, 11.38, 11.42, 11.48, 11.52, 11.58]
b_dot_t = [8.2, 7.6, 7.0, 9.3, 6.5, 6.0, 5.6, 7.9, 5.3, 6.8,
           7.2, 6.4, 5.8, 7.6, 6.9, 5.5, 8.6, 6.6, 6.1, 7.3, 5.1, 5.3,
           6.8, 5.9, 8.2, 7.1, 5.6, 6.5, 7.8, 5.2, 6.9, 7.4, 6.2, 5.9,
           6.1, 5.5, 7.6, 6.7, 8.2, 5.8, 6.4, 7.1, 9.05, 5.4, 5.2, 6.0,
           6.9, 6.2, 7.5, 5.6, 6.6, 7.9, 5.9, 6.8, 7.3,
           6.5, 7.1, 8.9, 6.8, 7.4, 6.3, 7.8, 6.9, 8.4, 9.06, 7.3,
           8.4, 7.6, 6.2, 7.0, 6.5, 7.6, 5.8, 5.5,
           10.5, 10.9, 6.0, 6.5, 7.2, 7.7, 13.3, 9.5,
           7.5, 6.8, 7.9, 6.2, 7.2, 6.6, 8.0, 6.0, 7.0, 7.6, 6.4, 7.3, 6.8, 7.8, 6.1, 7.1, 6.6, 7.6, 5.9, 7.0,
           6.4, 5.5, 7.4, 6.8, 14.1, 11.9, 10.6, 11.3, 12.6, 9.8,
           11.4, 10.8, 10.2, 9.6, 8.9, 8.2, 7.5, 15.36, 14.3, 11.1, 9.3, 8.4,
           13.8, 12.9, 9.2, 8.7, 8.2, 7.6, 9.0, 8.5, 7.9, 9.4, 8.1, 6.9, 5.8, 18.66, 19.13, 17.3, 13.2, 11.5, 9.5, 7.8,
           17.2, 16.2, 15.2, 8.0, 7.4, 7.1, 7.8, 7.3, 18.82, 18.0,
           16.2, 13.5, 12.2, 10.9, 9.7, 8.8, 8.3, 12.05, 11.0, 9.8, 8.6, 7.7,
           12.4, 11.6, 10.8, 10.0, 9.2, 8.5, 7.7, 7.0, 8.1,
           9.8, 9.1, 8.4, 7.6, 11.7, 11.0, 10.3, 9.6, 8.9, 8.2, 7.5, 10.8,
           11.4, 10.7, 10.1, 9.5, 8.8, 8.2, 7.5, 10.3, 9.8, 9.4, 8.6, 8.3, 10.0,
           9.0, 6.6, 8.6, 5.8, 7.3, 6.2, 6.0, 7.8, 5.6, 6.7, 8.1, 6.2, 7.1, 5.7, 7.7, 5.9, 6.5, 7.6, 5.4, 6.8,
           7.9, 5.9, 7.0, 6.3, 8.0, 5.7, 6.6, 7.2, 5.9, 6.2, 7.9, 6.9, 5.3, 7.5, 6.3, 5.7, 7.8, 5.2, 6.6, 7.1,
           6.0, 5.4, 7.2, 6.3, 5.6, 6.1, 7.6, 5.8, 6.2, 7.9, 5.9, 7.1, 6.0, 7.6, 6.7, 7.1, 7.9, 8.7, 6.9, 6.2,
           6.4, 6.8, 7.4, 10.0, 8.3, 6.3, 7.2, 6.0, 6.6, 7.7, 5.9, 7.0, 7.4, 6.7, 6.2, 6.9, 7.9, 6.0, 6.5, 7.2,
           6.7, 7.9, 6.3, 7.0, 6.5, 7.8, 6.9, 6.2, 7.9, 6.6, 7.2, 8.3, 7.8, 12.5, 10.5, 8.6, 7.8, 10.2, 7.6, 9.9,
           7.4, 8.0, 7.2, 9.6, 7.9, 8.3, 7.5, 8.9, 7.2, 8.6, 9.9, 7.7, 8.4, 15.6, 8.8, 7.3, 14.5, 8.2, 9.0, 7.6,
           8.6, 9.2, 7.8, 8.4, 9.4, 7.6, 8.7, 17.4, 16.8, 17.2, 8.9, 14.6, 9.9, 8.1, 11.6, 10.2, 7.5, 9.3, 10.4, 12.6,
           7.2, 9.0, 11.2, 9.6, 8.2, 10.4, 12.0, 9.0, 10.5, 8.8, 7.9, 9.4, 8.1, 10.6, 9.2, 8.6, 11.2, 9.9, 7.9, 9.1,
           8.5, 11.0, 7.8, 10.4, 9.0, 8.4, 11.3, 8.9, 10.7, 9.2, 7.7, 8.9]

# colours
c_maroon = '#a0284e'
c_red = '#e8123a'
c_pink = '#f9c4c8'
c_salmon = '#f2a4a4'
c_blue = '#2238e4'
c_cyan = '#52d6f6'
c_green = '#80e842'
c_yellow = '#fdcd1c'
c_dot = '#c3cbcb'

labels_a = ['3498', '66 (year 1)', '66 (year 2)', '65', '2922', '1166', '990']
labels_b = ['2255B', '1438', '2071', '963', '861', '3443', '10401']
legend_cols = [c_maroon, c_red, c_pink, c_blue, c_cyan, c_green, c_yellow]

W, H = 468, 770
fig = plt.figure(figsize=(W / 100, H / 100), dpi=100)

# axes placed in pixel units of the reference
ax1 = fig.add_axes([64 / W, 1 - 342 / H, (465 - 64) / W, (342 - 8) / H])
ax2 = fig.add_axes([70 / W, 1 - 716.7 / H, (468 - 70) / W, (716.7 - 380) / H])

lw = 2.0

# panel a
ax1.scatter(a_dot_m, a_dot_t, s=5, color=c_dot, linewidths=0, zorder=1)
ax1.plot(a_66y2_m, a_66y2_t, color=c_pink, lw=lw, zorder=2)
ax1.plot(a_2922_m, a_2922_t, color=c_cyan, lw=lw, zorder=3)
ax1.plot(a_65_m, a_65_t, color=c_blue, lw=lw, zorder=4)
ax1.plot(a_3498_m, a_3498_t, color=c_maroon, lw=lw, zorder=5)
ax1.plot(a_66y1_m, a_66y1_t, color=c_red, lw=lw, zorder=6)
ax1.plot(a_1166_m, a_1166_t, color=c_green, lw=lw, zorder=7)
ax1.plot(a_990_m, a_990_t, color=c_yellow, lw=lw, zorder=8)

# panel b
ax2.scatter(b_dot_m, b_dot_t, s=5, color=c_dot, linewidths=0, zorder=1)
ax2.plot(b_2071_m, b_2071_t, color=c_salmon, lw=lw, zorder=2)
ax2.plot(b_1438_m, b_1438_t, color=c_red, lw=lw, zorder=3)
ax2.plot(b_861_m, b_861_t, color=c_cyan, lw=lw, zorder=4)
ax2.plot(b_963_m, b_963_t, color=c_blue, lw=lw, zorder=5)
ax2.plot(b_3443_m, b_3443_t, color=c_green, lw=lw, zorder=6)
ax2.plot(b_2255_m, b_2255_t, color=c_maroon, lw=lw, zorder=7)
ax2.plot(b_10401_m, b_10401_t, color=c_yellow, lw=lw, zorder=8)

# axes styling (R-like open axes)
ax1.set_xlim(-32 / 30.25, 12 + 6 / 30.25)
ax1.set_ylim(5 - 14 / 31.7, 15 + 3 / 31.7)
ax2.set_xlim(-29.7 / 30.38, 12 + 3.7 / 30.38)
ax2.set_ylim(5 - 14 / 21.18, 20 + 5 / 21.18)

for ax, ytop in [(ax1, 15), (ax2, 20)]:
    ax.spines['top'].set_visible(False)
    ax.spines['right'].set_visible(False)
    ax.spines['left'].set_bounds(5, ytop)
    ax.spines['bottom'].set_bounds(0, 12)
    ax.spines['left'].set_color('#333333')
    ax.spines['bottom'].set_color('#333333')
    ax.set_yticks(range(5, ytop + 1, 5))
    ax.set_xticks(range(0, 13))
    ax.tick_params(axis='y', direction='out', length=5, width=1, pad=2, colors='#333333', labelcolor='black')
    ax.tick_params(axis='x', direction='out', length=6.5, width=1, colors='#333333')
    ax.set_ylabel('temperature (°C)', va='center')
    ax.patch.set_visible(False)

ax1.set_xticklabels([])
ax2.set_xticklabels([])
ax2.set_xticks(np.arange(0.5, 12, 1), minor=True)
ax2.set_xticklabels([str(i) for i in range(1, 13)], minor=True)
ax2.tick_params(axis='x', which='minor', length=0, pad=11)
ax2.set_xlabel('month', va='center')

ax1.yaxis.set_label_coords((15 - 64) / 401, (342 - 168) / 334)
ax2.yaxis.set_label_coords((15 - 70) / 398, (716.7 - 545) / 336.7)
ax2.xaxis.set_label_coords((282 - 70) / 398, (716.7 - 762) / 336.7)

fig.text(13 / W, 1 - 13 / H, '($\\it{a}$)', ha='center', va='center')
fig.text(13 / W, 1 - 385 / H, '($\\it{b}$)', ha='center', va='center')

# legends
for labels, ytop in [(labels_a, 4.0), (labels_b, 378.0)]:
    handles = [Line2D([0], [0], color=c, lw=3, solid_capstyle='round') for c in legend_cols]
    fig.legend(handles, labels, loc='upper left', bbox_to_anchor=(94 / W, 1 - ytop / H),
               frameon=False, borderpad=0, borderaxespad=0, handlelength=2.4,
               handletextpad=0.7, labelspacing=0.45, fontsize=13)

fig.savefig('out.png', dpi=100)
